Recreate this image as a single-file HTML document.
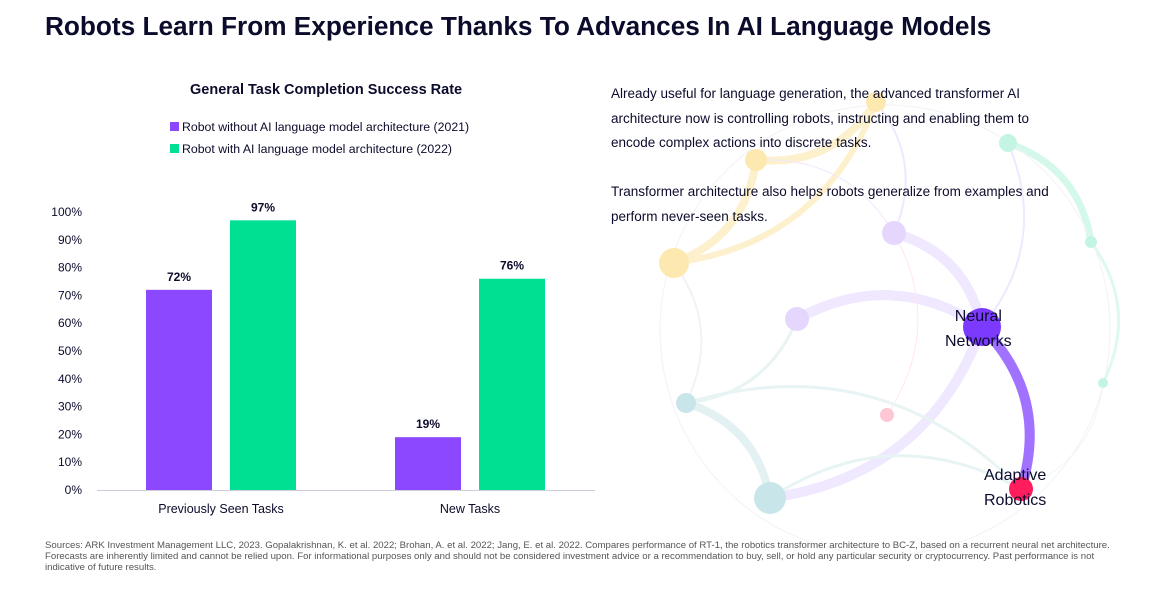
<!DOCTYPE html>
<html><head><meta charset="utf-8"><style>
body{margin:0;width:1170px;height:595px;background:#fff;font-family:"Liberation Sans",sans-serif;color:#0b0b2b;position:relative;overflow:hidden}
.t{position:absolute}
</style></head><body>
<div class="t" style="left:45px;top:11px;font-size:26.2px;font-weight:bold">Robots Learn From Experience Thanks To Advances In AI Language Models</div>
<div class="t" style="left:190px;top:82px;font-size:14.5px;font-weight:bold">General Task Completion Success Rate</div>
<div class="t" style="left:170px;top:120px;font-size:12.3px"><span style="display:inline-block;width:9px;height:9px;background:#8c48ff;margin-right:3px"></span>Robot without AI language model architecture (2021)</div>
<div class="t" style="left:170px;top:142px;font-size:12.3px"><span style="display:inline-block;width:9px;height:9px;background:#00e092;margin-right:3px"></span>Robot with AI language model architecture (2022)</div>
<svg class="t" style="left:0;top:0" width="1170" height="595">
<g id="net"></g>
<g id="chart"></g>
</svg>
<div class="t" style="left:611px;top:82px;font-size:13.5px;line-height:24.5px;width:448px">Already useful for language generation, the advanced transformer AI architecture now is controlling robots, instructing and enabling them to encode complex actions into discrete tasks.<br><br>Transformer architecture also helps robots generalize from examples and perform never-seen tasks.</div>
<div class="t" style="left:945px;top:304px;font-size:16px;line-height:25px;text-align:center">Neural<br>Networks</div>
<div class="t" style="left:984px;top:463px;font-size:16px;line-height:25px;text-align:center">Adaptive<br>Robotics</div>
<div class="t" style="left:45px;top:541px;font-size:9.6px;line-height:10.8px;width:1065px;color:#555">Sources: ARK Investment Management LLC, 2023. Gopalakrishnan, K. et al. 2022; Brohan, A. et al. 2022; Jang, E. et al. 2022. Compares performance of RT-1, the robotics transformer architecture to BC-Z, based on a recurrent neural net architecture. Forecasts are inherently limited and cannot be relied upon. For informational purposes only and should not be considered investment advice or a recommendation to buy, sell, or hold any particular security or cryptocurrency. Past performance is not indicative of future results.</div>
<script>
const categories=["Previously Seen Tasks","New Tasks"];
const series2021=[72,19];
const series2022=[97,76];
const ticks=[0,10,20,30,40,50,60,70,80,90,100];
const NS="http://www.w3.org/2000/svg";
const g=document.getElementById('chart');
function y(v){return 490-v*2.78;}
function cx(i){return 221+i*249;}
function mk(t,a,p){const e=document.createElementNS(NS,t);for(const k in a)e.setAttribute(k,a[k]);(p||g).appendChild(e);return e;}
ticks.forEach(t=>{const e=mk('text',{x:82,y:y(t)+4,'text-anchor':'end','font-size':12,fill:'#0b0b2b'});e.textContent=t+'%';

});
const ax=mk('line',{x1:97,x2:595,y1:490.5,y2:490.5,stroke:'#ccd',"stroke-width":1});


categories.forEach((c,i)=>{
 [[series2021,'#8c48ff',-75],[series2022,'#00e092',9]].forEach((s,j)=>{
  const v=s[0][i];const r=mk('rect',{x:cx(i)+s[2],y:y(v),width:66,height:490-y(v),fill:s[1]});
  
  
  const l=mk('text',{x:cx(i)+s[2]+33,y:y(v)-9,'text-anchor':'middle','font-size':12,'font-weight':'bold',fill:'#0b0b2b'});l.textContent=v+'%';
  
  
 });
 const t=mk('text',{x:cx(i),y:513,'text-anchor':'middle','font-size':12.5,fill:'#0b0b2b'});t.textContent=c;
 
 
});
const n=document.getElementById('net');
const nodes=[[876,102,10,'#fde9b0'],[756,160,11,'#fde9b0'],[674,263,15,'#fde9b0'],[1008,143,9,'#c4f5e2'],[1091,242,6,'#c4f5e2'],[1103,383,5,'#c4f5e2'],[894,233,12,'#e4d6fd'],[797,319,12,'#e4d6fd'],[982,327,19,'#7c3aff'],[887,415,7,'#ffc7d4'],[686,403,10,'#c8e6ea'],[770,498,16,'#c8e6ea'],[1021,489,12,'#ff1d5e']];
const edges=[[0,1,'#fdf0cc',8],[1,2,'#fdf0cc',8],[0,2,'#fdf0cc',6],[3,4,'#d4f8ea',7],[6,8,'#efe8ff',10],[7,8,'#efe8ff',10],[8,11,'#efe8ff',10],[10,11,'#e3f1f3',8],[8,12,'#a072ff',10],[4,5,'#def9ee',3],[2,10,'#eef4f5',2],[3,8,'#efe8ff',2],[7,10,'#e8f4f4',3],[6,9,'#ffe6ec',1],[1,6,'#efe8ff',1],[11,12,'#e8f4f4',3],[10,12,'#e8f4f4',3],[0,6,'#efe8ff',2],[5,12,'#eaf8f1',1]];
edges.forEach(e=>{const a=nodes[e[0]],b=nodes[e[1]];const mx=(a[0]+b[0])/2+(b[1]-a[1])*0.3,my=(a[1]+b[1])/2-(b[0]-a[0])*0.3;
 mk('path',{d:`M${a[0]} ${a[1]}Q${mx} ${my} ${b[0]} ${b[1]}`,stroke:e[2],'stroke-width':e[3],fill:'none','stroke-linecap':'round'},n);});
mk('circle',{cx:885,cy:330,r:225,fill:'none',stroke:'#f2f2f8','stroke-width':1},n);
nodes.forEach(p=>mk('circle',{cx:p[0],cy:p[1],r:p[2],fill:p[3]},n));
</script>
</body></html>
